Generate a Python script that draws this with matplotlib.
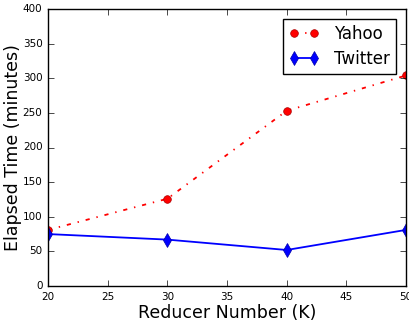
import matplotlib
matplotlib.use('Agg')
import matplotlib.pyplot as plt

plt.style.use('classic')

reducers = [20, 30, 40, 50]
yahoo = [81, 126, 253, 304]
twitter = [75, 67, 52, 81]

fig = plt.figure(figsize=(4.09, 3.22), dpi=100)
ax = fig.add_axes([48 / 409, 36 / 322, 358 / 409, 277 / 322])

ax.plot(reducers, yahoo, 'r-.o', linewidth=1.3, markersize=5.5,
        markeredgecolor='#aa0000', label='Yahoo')
ax.plot(reducers, twitter, 'b-d', linewidth=1.3, markersize=7,
        markeredgecolor='#0000aa', label='Twitter')

ax.set_xlim(20, 50)
ax.set_ylim(0, 400)
ax.tick_params(labelsize=7.5)
ax.set_xlabel('Reducer Number (K)', fontsize=12.5, labelpad=1.5)
ax.set_ylabel('Elapsed Time (minutes)', fontsize=12.5, labelpad=0.5)
ax.legend(loc='upper right', numpoints=2, fontsize=12, fancybox=False,
          handlelength=1.8, borderpad=0.35, labelspacing=0.45,
          handletextpad=0.9, borderaxespad=0.6)

fig.savefig('out.png', dpi=100)
